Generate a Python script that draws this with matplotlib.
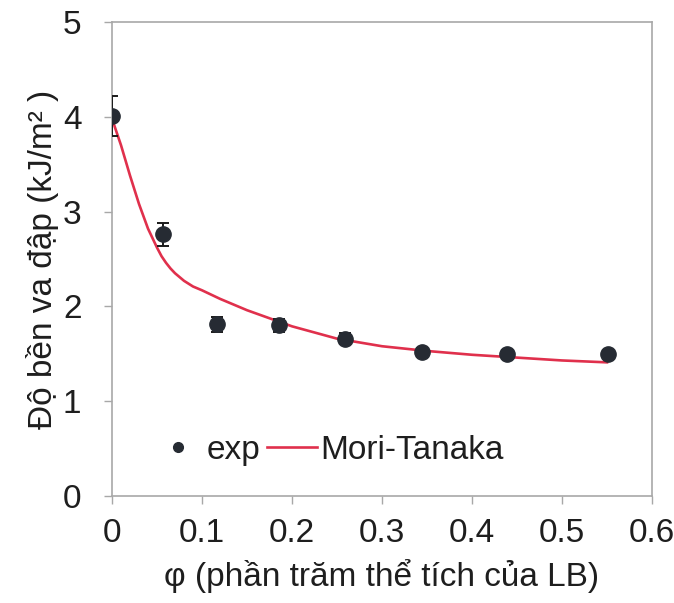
import matplotlib.pyplot as plt
from matplotlib.lines import Line2D

plt.rcParams['font.family'] = ['Liberation Sans', 'DejaVu Sans']

# Số liệu thực nghiệm (exp)
phi_exp = [0.0, 0.057, 0.117, 0.186, 0.259, 0.344, 0.439, 0.551]
do_ben_exp = [4.01, 2.76, 1.81, 1.80, 1.66, 1.52, 1.50, 1.50]
sai_so = [0.21, 0.12, 0.08, 0.07, 0.06, 0.04, 0.04, 0.03]

# Đường mô hình Mori-Tanaka
phi_mt = [0.0, 0.01, 0.02, 0.03, 0.04, 0.05, 0.055, 0.06, 0.065, 0.07, 0.075,
          0.08, 0.09, 0.10, 0.12, 0.15, 0.20, 0.25, 0.30, 0.35, 0.40, 0.45,
          0.50, 0.55]
do_ben_mt = [3.98, 3.70, 3.38, 3.08, 2.82, 2.62, 2.53, 2.46, 2.40, 2.35, 2.31,
             2.27, 2.21, 2.17, 2.08, 1.96, 1.79, 1.66, 1.58, 1.53, 1.49, 1.46,
             1.43, 1.41]

fig = plt.figure(figsize=(6.74, 6.03), dpi=100)
ax = fig.add_axes([0.1662, 0.1774, 0.8012, 0.7861])

ax.plot(phi_mt, do_ben_mt, color='#e0304c', lw=1.9, zorder=2)
ax.errorbar(phi_exp, do_ben_exp, yerr=sai_so, fmt='o', color='#262b33',
            markersize=11, ecolor='#1a1a1a', elinewidth=1.4, capsize=4,
            capthick=1.4, zorder=3)

ax.set_xlim(0, 0.6)
ax.set_ylim(0, 5)
ax.set_xticks([0, 0.1, 0.2, 0.3, 0.4, 0.5, 0.6])
ax.set_xticklabels(['0', '0.1', '0.2', '0.3', '0.4', '0.5', '0.6'])
ax.set_yticks([0, 1, 2, 3, 4, 5])

for sp in ax.spines.values():
    sp.set_color('#a8a8a8')
    sp.set_linewidth(1.2)
ax.tick_params(axis='both', direction='out', length=6, width=1, color='#a8a8a8',
               labelsize=24, labelcolor='#1e1e1e')
ax.tick_params(axis='x', pad=10)
ax.tick_params(axis='y', pad=16)

ax.set_xlabel('φ (phần trăm thể tích của LB)', fontsize=24, color='#1e1e1e', labelpad=7)
ax.set_ylabel('Độ bền va đập (kJ/m² )', fontsize=24, color='#1e1e1e', labelpad=3)

handles = [Line2D([], [], ls='none', marker='o', markersize=7, color='#262b33'),
           Line2D([], [], color='#e0304c', lw=1.9)]
ax.legend(handles, ['exp', 'Mori-Tanaka'], ncol=2, frameon=False, fontsize=24,
          loc='center left', bbox_to_anchor=(0.076, 0.097), borderaxespad=0,
          borderpad=0, handlelength=1.5, handletextpad=0.1, columnspacing=0.2,
          labelcolor='#1e1e1e')

fig.savefig('out.png', dpi=100)
